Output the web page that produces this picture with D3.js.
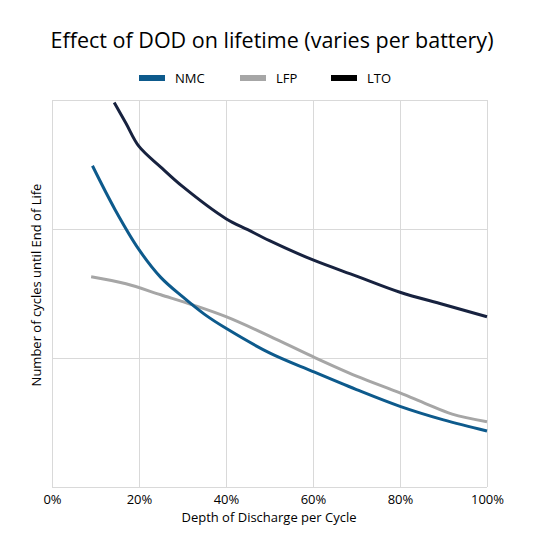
<!DOCTYPE html>
<html>
<head>
<meta charset="utf-8">
<script src="https://cdn.jsdelivr.net/npm/d3@7"></script>
<style>
  body { margin: 0; background: #fff; }
  svg { display: block; }
  text { font-family: "Open Sans", "Liberation Sans", sans-serif; fill: #000; }
</style>
</head>
<body>
<svg id="chart" width="538" height="538"></svg>
<script>
const title = "Effect of DOD on lifetime (varies per battery)";
const xTitle = "Depth of Discharge per Cycle";
const yTitle = "Number of cycles until End of Life";
const seriesNames = ["NMC", "LFP", "LTO"];
const seriesColors = ["#0d5a8c", "#a6a6a6", "#17223f"];
const xTicks = [0, 20, 40, 60, 80, 100];
const yGrid = [0, 1, 2, 3];

const nmcX = [9.3, 14.5, 20, 25, 30, 35, 40, 50, 60, 70, 80, 90, 100];
const nmcY = [2.49, 2.15, 1.84, 1.625, 1.475, 1.34, 1.23, 1.04, 0.895, 0.755, 0.625, 0.52, 0.434];

const lfpX = [9, 17, 25, 32.5, 40, 50, 60, 70, 80, 86, 92, 100];
const lfpY = [1.63, 1.575, 1.49, 1.41, 1.32, 1.17, 1.01, 0.86, 0.73, 0.645, 0.565, 0.506];

const ltoX = [14.3, 17, 20, 25, 30, 40, 45, 50, 60, 70, 80, 90, 100];
const ltoY = [2.98, 2.82, 2.64, 2.48, 2.33, 2.08, 1.995, 1.91, 1.76, 1.635, 1.51, 1.415, 1.32];

const svg = d3.select("#chart");
const M = { left: 52, right: 487, top: 100, bottom: 487 };
const x = d3.scaleLinear().domain([0, 100]).range([M.left, M.right]);
const y = d3.scaleLinear().domain([0, 3]).range([M.bottom, M.top]);

// grid
const g = svg.append("g");
g.selectAll(".hg").data(yGrid).enter().append("line")
  .attr("x1", M.left).attr("x2", M.right)
  .attr("y1", d => y(d) + 0.5).attr("y2", d => y(d) + 0.5)
  .attr("stroke", "#d9d9d9").attr("stroke-width", 1);
g.selectAll(".vg").data(xTicks).enter().append("line")
  .attr("x1", d => x(d) + 0.5).attr("x2", d => x(d) + 0.5)
  .attr("y1", M.top).attr("y2", M.bottom)
  .attr("stroke", "#d9d9d9").attr("stroke-width", 1);

// x axis labels
const xAxis = d3.axisBottom(x).tickValues(xTicks).tickFormat(d => d + "%").tickSize(0).tickPadding(8);
const xa = svg.append("g").attr("transform", `translate(0,${M.bottom})`).call(xAxis);
xa.select(".domain").remove();
xa.selectAll("text").style("font-size", "13px").style("font-family", "'Open Sans', sans-serif").attr("fill", "#000");

// lines
const seriesData = [
  nmcX.map((v, i) => [v, nmcY[i]]),
  lfpX.map((v, i) => [v, lfpY[i]]),
  ltoX.map((v, i) => [v, ltoY[i]])
];
const line = d3.line().x(d => x(d[0])).y(d => y(d[1])).curve(d3.curveCatmullRom.alpha(0.5));
[1, 0, 2].forEach(i => {
  svg.append("path").datum(seriesData[i])
    .attr("d", line).attr("fill", "none")
    .attr("stroke", seriesColors[i]).attr("stroke-width", 3)
    .attr("stroke-linecap", "butt").attr("stroke-linejoin", "round");
});

// title
svg.append("text").attr("x", 272).attr("y", 48).attr("text-anchor", "middle")
  .style("font-size", "21.5px").attr("fill", "#1b1b1b").text(title);

// legend
const legX = [139, 240, 331];
seriesNames.forEach((n, i) => {
  svg.append("rect").attr("x", legX[i]).attr("y", 75).attr("width", 26).attr("height", 6)
    .attr("fill", i === 2 ? "#000" : seriesColors[i]);
  svg.append("text").attr("x", legX[i] + 36).attr("y", 83)
    .style("font-size", "13px").text(n);
});

// axis titles
svg.append("text").attr("x", 269).attr("y", 522).attr("text-anchor", "middle")
  .style("font-size", "13px").text(xTitle);
svg.append("text").attr("transform", "translate(41,285) rotate(-90)").attr("text-anchor", "middle")
  .style("font-size", "13px").text(yTitle);
</script>
</body>
</html>
